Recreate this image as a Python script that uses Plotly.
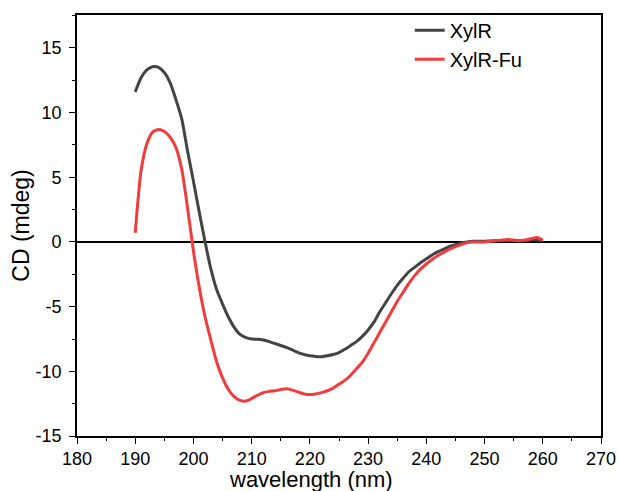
import plotly.graph_objects as go

wavelength = list(range(190, 261))

xylr = [11.6, 12.7, 13.3, 13.55, 13.5, 13.1, 12.3, 11.0, 9.5, 7.0,
        4.7, 2.3, 0.0, -2.1, -3.7, -4.8, -5.8, -6.6, -7.15, -7.4,
        -7.5, -7.52, -7.58, -7.7, -7.85, -8.0, -8.15, -8.35, -8.55, -8.7,
        -8.8, -8.85, -8.87, -8.8, -8.7, -8.55, -8.3, -8.0, -7.7, -7.3,
        -6.8, -6.2, -5.4, -4.7, -4.0, -3.35, -2.8, -2.3, -1.95, -1.6,
        -1.3, -1.0, -0.75, -0.55, -0.35, -0.2, -0.08, 0.0, 0.05, 0.05,
        0.05, 0.08, 0.1, 0.12, 0.12, 0.1, 0.1, 0.12, 0.15, 0.15,
        0.12]

xylr_fu = [0.7, 5.5, 7.6, 8.5, 8.7, 8.55, 8.1, 7.3, 5.6, 2.6,
           -0.7, -3.5, -5.8, -7.6, -9.3, -10.5, -11.4, -11.95, -12.25, -12.3,
           -12.1, -11.85, -11.65, -11.55, -11.5, -11.4, -11.35, -11.45, -11.6, -11.75,
           -11.8, -11.75, -11.65, -11.5, -11.3, -11.0, -10.7, -10.3, -9.8, -9.3,
           -8.6, -7.8, -7.0, -6.2, -5.4, -4.6, -3.9, -3.2, -2.6, -2.1,
           -1.7, -1.35, -1.05, -0.8, -0.55, -0.35, -0.2, -0.05, 0.0, 0.0,
           0.0, 0.05, 0.1, 0.15, 0.2, 0.15, 0.1, 0.15, 0.25, 0.35,
           0.15]

x_ticks = list(range(180, 271, 10))
y_ticks = [-15, -10, -5, 0, 5, 10, 15]

x_title = "wavelength (nm)"
y_title = "CD (mdeg)"

font_family = "Liberation Sans, Arial, sans-serif"

fig = go.Figure()
fig.add_trace(go.Scatter(x=wavelength, y=xylr, mode="lines", name="XylR",
                         line=dict(color="#444444", width=3, shape="spline", smoothing=0.6)))
fig.add_trace(go.Scatter(x=wavelength, y=xylr_fu, mode="lines", name="XylR-Fu",
                         line=dict(color="#f03c3c", width=3, shape="spline", smoothing=0.6)))

fig.add_annotation(text=x_title, xref="paper", yref="paper", x=0.4466, y=-0.1354,
                   xanchor="center", yanchor="bottom", showarrow=False, borderpad=0,
                   font=dict(size=22, family=font_family, color="black"))

fig.update_layout(
    width=618, height=491,
    margin=dict(l=77, r=17, t=15, b=55, autoexpand=False),
    paper_bgcolor="white", plot_bgcolor="white",
    font=dict(family=font_family, color="black", size=18),
    showlegend=True,
    legend=dict(x=0.635, y=1.01, xanchor="left", yanchor="top",
                bgcolor="rgba(0,0,0,0)", borderwidth=0,
                font=dict(size=20, family=font_family),
                tracegroupgap=0),
    xaxis=dict(range=[180, 270], tickvals=x_ticks, ticktext=[str(v) for v in x_ticks],
               ticks="outside", ticklen=6, tickwidth=1.3, tickcolor="black",
               minor=dict(dtick=5, ticks="outside", ticklen=3, tickwidth=1.3, tickcolor="black"),
               showline=True, linecolor="black", linewidth=1.6, mirror=True,
               showgrid=False, zeroline=False,
               tickfont=dict(size=18)),
    yaxis=dict(range=[-15, 17.55], tickvals=y_ticks, ticktext=[str(v) for v in y_ticks],
               ticks="outside", ticklen=6, tickwidth=1.3, tickcolor="black",
               ticklabelstandoff=4,
               minor=dict(dtick=2.5, ticks="outside", ticklen=3, tickwidth=1.3, tickcolor="black"),
               showline=True, linecolor="black", linewidth=1.6, mirror=True,
               showgrid=False, zeroline=True, zerolinecolor="black", zerolinewidth=1.6,
               tickfont=dict(size=18),
               title=dict(text=y_title, font=dict(size=23), standoff=0)),
)

fig.write_html("out.html", config={"displayModeBar": False},
               post_script="document.body.style.margin='0';")
